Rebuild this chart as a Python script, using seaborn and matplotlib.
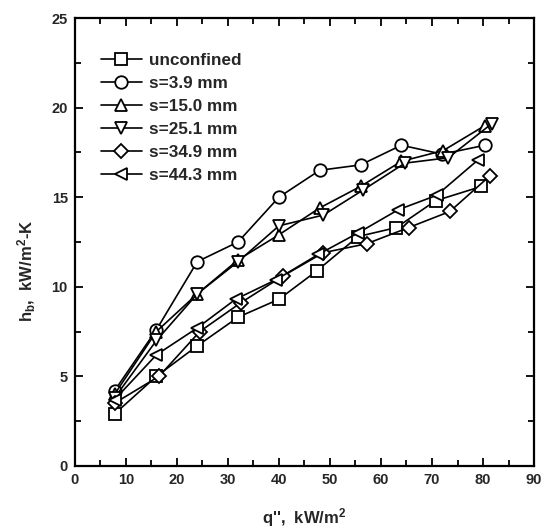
import matplotlib
matplotlib.use("Agg")
import matplotlib.pyplot as plt
import seaborn as sns
from matplotlib.ticker import MultipleLocator

sns.set_style("ticks")
plt.rcParams['font.family'] = ['Liberation Sans', 'DejaVu Sans']
plt.rcParams['mathtext.fontset'] = 'custom'
plt.rcParams['mathtext.rm'] = 'Liberation Sans:bold'
plt.rcParams['mathtext.it'] = 'Liberation Sans:bold'
plt.rcParams['mathtext.bf'] = 'Liberation Sans:bold'

labels = ["unconfined", "s=3.9 mm", "s=15.0 mm", "s=25.1 mm", "s=34.9 mm", "s=44.3 mm"]
markers = ["s", "o", "^", "v", "D", "<"]

q_unconf = [7.8, 16.0, 24.0, 32.0, 40.0, 47.5, 55.5, 63.0, 70.7, 79.7]
h_unconf = [2.9, 5.0, 6.7, 8.3, 9.3, 10.9, 12.8, 13.3, 14.8, 15.6]

q_s39 = [7.8, 16.0, 24.0, 32.0, 40.0, 48.0, 56.0, 64.0, 72.0, 80.4]
h_s39 = [4.2, 7.6, 11.4, 12.5, 15.0, 16.5, 16.8, 17.9, 17.4, 17.9]

q_s150 = [7.8, 16.0, 24.0, 32.0, 40.0, 48.0, 56.0, 64.0, 72.2, 80.4]
h_s150 = [4.0, 7.5, 9.6, 11.5, 12.9, 14.4, 15.6, 17.0, 17.6, 19.0]

q_s251 = [7.8, 16.0, 24.0, 32.0, 40.0, 48.7, 56.5, 64.7, 73.2, 81.7]
h_s251 = [3.8, 7.0, 9.6, 11.4, 13.4, 14.0, 15.4, 16.9, 17.2, 19.1]

q_s349 = [7.8, 16.5, 24.5, 32.5, 40.8, 48.7, 57.2, 65.4, 73.5, 81.4]
h_s349 = [3.5, 5.0, 7.5, 9.1, 10.6, 11.9, 12.4, 13.3, 14.2, 16.2]

q_s443 = [7.8, 16.0, 24.0, 31.5, 39.5, 47.7, 55.5, 63.4, 70.9, 79.1]
h_s443 = [3.7, 6.2, 7.7, 9.3, 10.4, 11.8, 13.0, 14.3, 15.1, 17.1]

series = [(q_unconf, h_unconf), (q_s39, h_s39), (q_s150, h_s150),
          (q_s251, h_s251), (q_s349, h_s349), (q_s443, h_s443)]

fig = plt.figure(figsize=(5.5, 5.3), dpi=100)
ax = fig.add_axes([0.136, 0.121, 0.835, 0.845])

for (qx, hy), lab, mk in zip(series, labels, markers):
    ms = {"s": 8, "D": 7.5}.get(mk, 9)
    sns.lineplot(x=qx, y=hy, ax=ax, color="black", linewidth=1.2,
                 marker=mk, markersize=ms, markerfacecolor="white",
                 markeredgecolor="black", markeredgewidth=1.3,
                 label=lab, sort=False)

ax.set_xlim(0, 90)
ax.set_ylim(0, 25)
ax.xaxis.set_major_locator(MultipleLocator(10))
ax.xaxis.set_minor_locator(MultipleLocator(5))
ax.yaxis.set_major_locator(MultipleLocator(5))
ax.yaxis.set_minor_locator(MultipleLocator(2.5))
ax.tick_params(which="both", direction="in", top=True, right=True,
               color="black", width=1.3, labelsize=10.5, pad=5)
ax.tick_params(which="major", length=6)
ax.tick_params(which="minor", length=4)
for t in ax.get_xticklabels() + ax.get_yticklabels():
    t.set_fontweight("bold")
for sp in ax.spines.values():
    sp.set_visible(True)
    sp.set_linewidth(1.6)
    sp.set_color("black")

ax.set_xlabel("q'',  kW/m$^2$", fontsize=12, fontweight="bold", labelpad=14)
ax.set_ylabel("h$_b$,  kW/m$^2$-K", fontsize=12, fontweight="bold")
ax.yaxis.set_label_coords(-0.08, 0.435)

leg = ax.legend(loc="upper left", bbox_to_anchor=(0.057, 0.922), frameon=False,
                prop={"size": 12.3, "weight": "bold"}, handlelength=2.4,
                handletextpad=0.4, labelspacing=0.47, borderaxespad=0,
                borderpad=0)

fig.savefig("out.png", dpi=100)
